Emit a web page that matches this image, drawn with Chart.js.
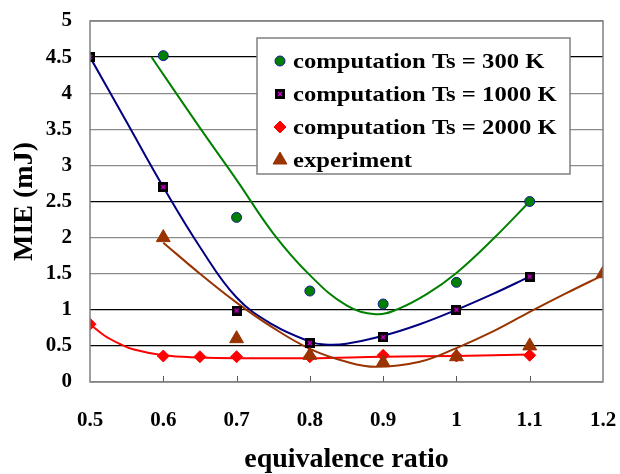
<!DOCTYPE html>
<html>
<head>
<meta charset="utf-8">
<script src="https://cdn.jsdelivr.net/npm/chart.js@4.4.1/dist/chart.umd.min.js"></script>
<style>
  html, body { margin: 0; padding: 0; background: #fff; }
  #wrap { width: 620px; height: 474px; }
</style>
</head>
<body>
<div id="wrap"><canvas id="mieChart"></canvas></div>
<script>
// measured points
const seriesNames = ['computation Ts = 300 K', 'computation Ts = 1000 K', 'computation Ts = 2000 K', 'experiment'];
const phi300 = [0.6, 0.7, 0.8, 0.9, 1.0, 1.1];
const mie300 = [4.52, 2.28, 1.26, 1.08, 1.38, 2.5];
const phi1000 = [0.5, 0.6, 0.7, 0.8, 0.9, 1.0, 1.1];
const mie1000 = [4.5, 2.7, 0.99, 0.54, 0.62, 1.0, 1.46];
const phi2000 = [0.5, 0.6, 0.65, 0.7, 0.8, 0.9, 1.0, 1.1];
const mie2000 = [0.8, 0.36, 0.35, 0.35, 0.35, 0.37, 0.36, 0.37];
const phiExp = [0.6, 0.7, 0.8, 0.9, 1.0, 1.1, 1.2];
const mieExp = [2.0, 0.6, 0.37, 0.27, 0.35, 0.5, 1.5];

// trend curves
const fit300X = [0.584, 0.6, 0.65, 0.7, 0.75, 0.8, 0.85, 0.89, 0.92, 0.96, 1.0, 1.05, 1.1];
const fit300Y = [4.5, 4.26, 3.52, 2.8, 2.06, 1.48, 1.06, 0.94, 1.01, 1.22, 1.51, 1.98, 2.5];
const fit1000X = [0.5, 0.55, 0.6, 0.65, 0.7, 0.75, 0.8, 0.82, 0.85, 0.9, 0.95, 1.0, 1.05, 1.1];
const fit1000Y = [4.5, 3.6, 2.7, 1.87, 1.17, 0.79, 0.56, 0.52, 0.53, 0.64, 0.8, 1.0, 1.22, 1.46];
const fit2000X = [0.5, 0.52, 0.54, 0.56, 0.6, 0.65, 0.7, 0.8, 0.9, 1.0, 1.1];
const fit2000Y = [0.8, 0.64, 0.53, 0.45, 0.37, 0.34, 0.33, 0.33, 0.35, 0.36, 0.38];
const fitExpX = [0.6, 0.65, 0.7, 0.75, 0.8, 0.85, 0.89, 0.95, 1.0, 1.05, 1.1, 1.15, 1.2];
const fitExpY = [1.93, 1.5, 1.1, 0.75, 0.46, 0.28, 0.21, 0.28, 0.47, 0.7, 0.97, 1.23, 1.48];

const xTicks = [0.5, 0.6, 0.7, 0.8, 0.9, 1.0, 1.1, 1.2];
const yTicks = [0, 0.5, 1, 1.5, 2, 2.5, 3, 3.5, 4, 4.5, 5];
const darkGrid = [0.5, 1, 2.5, 4.5];

const serif = '"Liberation Serif", "Times New Roman", serif';

function pts(xs, ys) {
  return xs.map((x, i) => ({ x: x, y: ys[i] }));
}

// black square with magenta cross
function squareMarker() {
  const c = document.createElement('canvas');
  c.width = 10; c.height = 10;
  const g = c.getContext('2d');
  g.fillStyle = '#000';
  g.fillRect(0, 0, 10, 10);
  g.strokeStyle = '#d000d0';
  g.lineWidth = 1.5;
  g.beginPath();
  g.moveTo(3, 3); g.lineTo(7, 7);
  g.moveTo(7, 3); g.lineTo(3, 7);
  g.stroke();
  return c;
}

const markers = [
  { pointStyle: 'circle', radius: 5, backgroundColor: '#008000', borderColor: '#1a1a9a', borderWidth: 1 },
  { pointStyle: squareMarker(), radius: 5, backgroundColor: '#000', borderColor: '#000', borderWidth: 0 },
  { pointStyle: 'rectRot', radius: 6, backgroundColor: '#ff0000', borderColor: '#ff0000', borderWidth: 1 },
  { pointStyle: 'triangle', radius: 8, backgroundColor: '#993300', borderColor: '#993300', borderWidth: 1 }
];

function pointSet(i, xs, ys, order) {
  const m = markers[i];
  return {
    label: seriesNames[i], data: pts(xs, ys), showLine: false, order: order,
    pointStyle: m.pointStyle, pointRadius: m.radius,
    pointBackgroundColor: m.backgroundColor, pointBorderColor: m.borderColor, pointBorderWidth: m.borderWidth
  };
}
function curveSet(xs, ys, color) {
  return {
    label: '', data: pts(xs, ys), showLine: true, order: 10,
    borderColor: color, borderWidth: 2, pointRadius: 0, tension: 0.4, fill: false
  };
}

const frame = {
  id: 'frame',
  afterDatasetsDraw(chart) {
    const ctx = chart.ctx, a = chart.chartArea, xs = chart.scales.x;
    ctx.save();
    // small ticks along the bottom
    ctx.strokeStyle = '#555';
    ctx.lineWidth = 1;
    xs.ticks.forEach(t => {
      const px = Math.round(xs.getPixelForValue(t.value)) + 0.5;
      if (px <= a.left + 1 || px >= a.right - 1) return;
      ctx.beginPath();
      ctx.moveTo(px, a.bottom);
      ctx.lineTo(px, a.bottom - 6);
      ctx.stroke();
    });
    ctx.strokeStyle = '#808080';
    ctx.lineWidth = 1.5;
    ctx.strokeRect(a.left, a.top, a.right - a.left, a.bottom - a.top);

    // legend box inside the plot
    const bx = a.right - 346, by = a.top + 17, bw = 313, bh = 136;
    ctx.fillStyle = '#fff';
    ctx.fillRect(bx, by, bw, bh);
    ctx.strokeRect(bx, by, bw, bh);
    ctx.font = 'bold 22px ' + serif;
    ctx.textBaseline = 'middle';
    seriesNames.forEach((name, i) => {
      const cy = by + 23 + i * 33;
      const m = markers[i];
      ctx.fillStyle = m.backgroundColor;
      ctx.strokeStyle = m.borderColor;
      ctx.lineWidth = m.borderWidth;
      Chart.helpers.drawPoint(ctx, {
        pointStyle: m.pointStyle, radius: m.radius, rotation: 0, borderWidth: m.borderWidth
      }, bx + 23, cy);
      ctx.fillStyle = '#000';
      ctx.save();
      ctx.translate(bx + 36, cy);
      ctx.scale(1.12, 1);
      ctx.fillText(name, 0, 1);
      ctx.restore();
    });
    ctx.restore();
  }
};

const chart = new Chart(document.getElementById('mieChart'), {
  type: 'scatter',
  data: {
    datasets: [
      pointSet(3, phiExp, mieExp, 0),
      pointSet(2, phi2000, mie2000, 1),
      pointSet(1, phi1000, mie1000, 2),
      pointSet(0, phi300, mie300, 3),
      curveSet(fitExpX, fitExpY, '#993300'),
      curveSet(fit1000X, fit1000Y, '#000080'),
      curveSet(fit300X, fit300Y, '#008000'),
      curveSet(fit2000X, fit2000Y, '#ff0000')
    ]
  },
  options: {
    responsive: true,
    maintainAspectRatio: false,
    animation: false,
    layout: { padding: { top: 21, right: 17, left: 0, bottom: 0 } },
    plugins: { legend: { display: false }, tooltip: { enabled: false } },
    scales: {
      x: {
        type: 'linear', min: 0.5, max: 1.2,
        afterBuildTicks: s => { s.ticks = xTicks.map(v => ({ value: v })); },
        afterFit: s => { s.height = 92; s.paddingLeft = 0; s.paddingRight = 0; },
        grid: { display: false },
        border: { display: false },
        ticks: {
          padding: 18, color: '#000', maxRotation: 0,
          font: { family: serif, size: 21, weight: 'bold' },
          callback: v => String(Math.round(v * 10) / 10)
        },
        title: {
          display: true, text: 'equivalence ratio', color: '#000',
          font: { family: serif, size: 28, weight: 'bold', lineHeight: 1.0 },
          padding: { top: 0, bottom: 0 }
        }
      },
      y: {
        min: 0, max: 5,
        afterBuildTicks: s => { s.ticks = yTicks.map(v => ({ value: v })); },
        afterFit: s => { s.width = 90; s.paddingTop = 0; s.paddingBottom = 0; },
        grid: {
          drawTicks: false, lineWidth: 1.3,
          color: c => darkGrid.includes(c.tick.value) ? '#000' : '#8a8a8a'
        },
        border: { display: false },
        ticks: {
          padding: 18, color: '#000',
          font: { family: serif, size: 21, weight: 'bold' },
          callback: v => String(v)
        },
        title: {
          display: true, text: 'MIE (mJ)', color: '#000',
          font: { family: serif, size: 28, weight: 'bold' },
          padding: { top: 8, bottom: 0 }
        }
      }
    }
  },
  plugins: [frame]
});
</script>
</body>
</html>
